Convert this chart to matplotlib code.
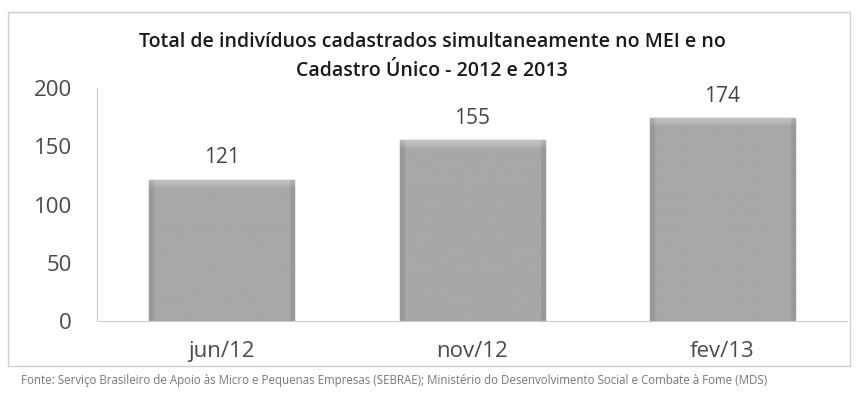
import numpy as np
import matplotlib.pyplot as plt
from matplotlib.patches import Rectangle

categories = ["jun/12", "nov/12", "fev/13"]
values = [121, 155, 174]
title = "Total de indivíduos cadastrados simultaneamente no MEI e no\nCadastro Único - 2012 e 2013"
source = ("Fonte: Serviço Brasileiro de Apoio às Micro e Pequenas Empresas (SEBRAE); "
          "Ministério do Desenvolvimento Social e Combate à Fome (MDS)")

plt.rcParams['font.family'] = ['Open Sans', 'DejaVu Sans']

fig = plt.figure(figsize=(8.56, 4.03), dpi=100)
fig.patch.set_facecolor('white')

# outer chart frame
fig.patches.append(Rectangle((8 / 856, 1 - 366 / 403), 842 / 856, 354 / 403,
                             transform=fig.transFigure, fill=False,
                             edgecolor='#cfcfcf', linewidth=1))

ax = fig.add_axes([0.113, 0.203, 0.877, 0.579])
x = np.arange(len(categories))
bars = ax.bar(x, values, width=0.58, color='#a9a9a9', edgecolor='#8e8e8e',
              linewidth=1.0, zorder=2)

# shading: light band on top, darker at the sides (like the 3d bevel in the original)
for b in bars:
    h = b.get_height()
    ny = int(h * 2)
    yy = np.linspace(0, 1, ny)[:, np.newaxis]
    xx = np.linspace(0, 1, 60)[np.newaxis, :]
    shade = 0.66 + 0.12 * np.clip((yy * h - (h - 8)) / 8, 0, 1)
    shade = shade - 0.06 * (np.abs(xx - 0.5) > 0.47)
    im = ax.imshow(shade, cmap='gray', vmin=0, vmax=1, origin='lower',
                   extent=(b.get_x(), b.get_x() + b.get_width(), 0, h),
                   aspect='auto', zorder=2.5, interpolation='bilinear')
    im.set_clip_path(b)

for xi, v in zip(x, values):
    ax.text(xi, v + 10, str(v), ha='center', va='bottom', fontsize=15, color='#444444')

ax.set_xlim(-0.5, len(categories) - 0.5)
ax.set_ylim(0, 200)
ax.set_yticks([0, 50, 100, 150, 200])
ax.set_xticks(x)
ax.set_xticklabels(categories)
ax.tick_params(axis='both', length=0, labelsize=16, colors='#4a4a4a')
ax.tick_params(axis='y', pad=18)
ax.tick_params(axis='x', pad=14)
for s in ['top', 'right']:
    ax.spines[s].set_visible(False)
for s in ['left', 'bottom']:
    ax.spines[s].set_color('#cccccc')

fig.text(0.505, 0.861, title, ha='center', va='center', fontsize=14,
         color='#1a1a1a', linespacing=1.6, weight='semibold')
fig.text(0.024, 0.057, source, ha='left', va='center', fontsize=8.3, color='#777777')

plt.savefig("out.png", dpi=100)
plt.close()
